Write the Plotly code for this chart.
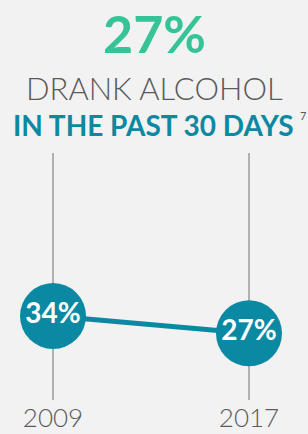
import plotly.graph_objects as go

years = ["2009", "2017"]
values = [34, 27]
labels = ["34%", "27%"]
headline = "27%"
title_line1 = "DRANK ALCOHOL"
title_line2 = "IN THE PAST 30 DAYS"
footnote = "7"

TEAL = "#0b89a3"
GREEN = "#36c398"
GRAY = "#5a5a5a"
BG = "#f2f2f2"

fig = go.Figure()
fig.add_trace(go.Scatter(
    x=years, y=values, mode="lines+markers+text",
    line=dict(color=TEAL, width=5),
    marker=dict(size=66, color=TEAL),
    text=labels, textposition="middle center",
    textfont=dict(color="white", size=28, family="Lato", weight="bold"),
    hoverinfo="skip", cliponaxis=False,
))

def py(p):
    return (400 - p) / 247.0

fig.add_annotation(text=headline, x=0.5, xref="paper", y=py(33), yref="paper",
                   yanchor="middle", showarrow=False,
                   font=dict(size=52, color=GREEN, family="Lato", weight="bold"))
fig.add_annotation(text=title_line1, x=0.5, xref="paper", y=py(88), yref="paper",
                   yanchor="middle", showarrow=False,
                   font=dict(size=31, color=GRAY, family="Lato", weight=300))
fig.add_annotation(text=title_line2, x=153 / 308, xref="paper", y=py(125), yref="paper",
                   yanchor="middle", showarrow=False,
                   font=dict(size=28, color=TEAL, family="Lato", weight="bold"))
fig.add_annotation(text=footnote, x=307 / 308, xref="paper", y=py(115), yref="paper",
                   xanchor="right", yanchor="middle", showarrow=False, borderpad=0,
                   font=dict(size=11, color=GRAY, family="Lato"))

fig.update_layout(
    width=308, height=434,
    margin=dict(l=0, r=0, t=153, b=34),
    paper_bgcolor=BG, plot_bgcolor=BG,
    showlegend=False,
    xaxis=dict(type="category", range=[-53 / 196, 1 + 59 / 196],
               showgrid=True, gridcolor="#b0b0b0", gridwidth=1.5,
               zeroline=False, showline=False, ticks="",
               tickfont=dict(size=26, color=GRAY, family="Lato", weight=300),
               fixedrange=True),
    yaxis=dict(range=[0, 100], showgrid=False, zeroline=False, showline=False,
               showticklabels=False, fixedrange=True),
)

fig.write_html("out.html", config={"displayModeBar": False},
               post_script="document.body.style.margin='0';document.body.style.background='#f2f2f2';")
